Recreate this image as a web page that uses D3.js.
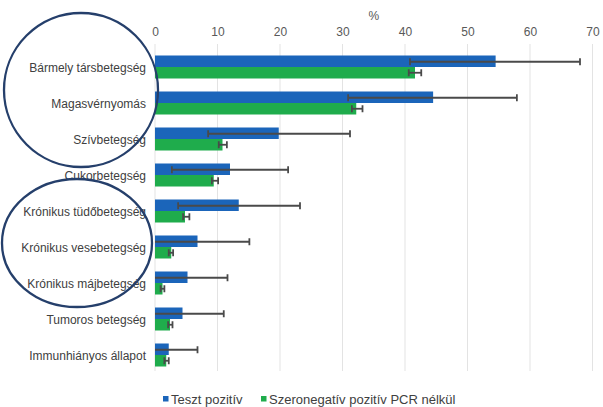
<!DOCTYPE html>
<html><head><meta charset="utf-8">
<script src="https://cdn.jsdelivr.net/npm/d3@7"></script>
<style>body{margin:0;background:#fff}svg{display:block}</style>
</head><body>
<svg id="c" width="603" height="407"></svg>
<script>
const categories = ["Bármely társbetegség","Magasvérnyomás","Szívbetegség","Cukorbetegség","Krónikus tüdőbetegség","Krónikus vesebetegség","Krónikus májbetegség","Tumoros betegség","Immunhiányos állapot"];
const seriesNames = ["Teszt pozitív","Szeronegatív pozitív PCR nélkül"];
const positive = [54.5,44.5,19.8,12.0,13.4,6.8,5.2,4.4,2.2];
const positiveLow = [40.8,30.9,8.5,2.7,3.7,0,0,0,0];
const positiveHigh = [68.0,57.9,31.2,21.3,23.2,15.1,11.6,11.0,6.8];
const seroneg = [41.6,32.2,10.8,9.4,4.8,2.6,1.2,2.4,1.8];
const serenegLow = [40.6,31.5,10.2,9.1,4.5,2.2,0.9,2.1,1.5];
const serenegHigh = [42.6,33.2,11.5,10.1,5.5,2.9,1.5,2.8,2.2];
const ticks = [0,10,20,30,40,50,60,70];

const svg = d3.select("#c");
const x = d3.scaleLinear().domain([0,70]).range([155,592.5]);
const y = d3.scaleBand().domain(categories).range([49,373]).paddingInner(0).paddingOuter(0);
const barH = 11.5;
const colors = ["#1b65ba","#1fac4c"];
const font = "Liberation Sans, Arial, sans-serif";

// gridlines
svg.append("g").selectAll("line").data(ticks).join("line")
  .attr("x1",d=>x(d)).attr("x2",d=>x(d)).attr("y1",44).attr("y2",371)
  .attr("stroke","#e3e3e3").attr("stroke-width",1);

// top axis labels
const ax = svg.append("g").attr("transform","translate(0,36)")
  .call(d3.axisTop(x).tickValues(ticks).tickSize(0).tickPadding(0));
ax.select(".domain").remove();
ax.selectAll("text").attr("font-family",font).attr("font-size",12).attr("fill","#595959");
svg.append("text").attr("x",x(35)).attr("y",20).attr("text-anchor","middle")
  .attr("font-family",font).attr("font-size",12).attr("fill","#595959").text("%");

// category labels
svg.append("g").selectAll("text").data(categories).join("text")
  .attr("x",146).attr("y",d=>y(d)+y.bandwidth()/2+4.5).attr("text-anchor","end")
  .attr("font-family",font).attr("font-size",12).attr("fill","#404040").text(d=>d);

const cy = d => y(d)+y.bandwidth()/2;
// bars
svg.append("g").selectAll("rect").data(categories).join("rect")
  .attr("x",x(0)).attr("y",d=>cy(d)-barH).attr("width",(d,i)=>x(positive[i])-x(0)).attr("height",barH)
  .attr("fill",colors[0]);
svg.append("g").selectAll("rect").data(categories).join("rect")
  .attr("x",x(0)).attr("y",d=>cy(d)).attr("width",(d,i)=>x(seroneg[i])-x(0)).attr("height",barH)
  .attr("fill",colors[1]);

// error bars
function errs(low, high, off){
  const g = svg.append("g").attr("stroke","#4a4a4a").attr("stroke-width",1.8);
  categories.forEach((c,i)=>{
    const yy = cy(c)+off;
    g.append("line").attr("x1",x(low[i])).attr("x2",x(high[i])).attr("y1",yy).attr("y2",yy);
    g.append("line").attr("x1",x(high[i])).attr("x2",x(high[i])).attr("y1",yy-3.5).attr("y2",yy+3.5);
    if(low[i]>0) g.append("line").attr("x1",x(low[i])).attr("x2",x(low[i])).attr("y1",yy-3.5).attr("y2",yy+3.5);
  });
}
errs(positiveLow,positiveHigh,-barH/2+0.5);
errs(serenegLow,serenegHigh,barH/2);

// legend
const leg = svg.append("g");
const lx = [163,261];
seriesNames.forEach((n,i)=>{
  leg.append("rect").attr("x",lx[i]).attr("y",396).attr("width",5.5).attr("height",5.5).attr("fill",colors[i]);
  leg.append("text").attr("x",lx[i]+8).attr("y",404).attr("font-family",font).attr("font-size",13)
    .attr("fill","#404040").text(n);
});

// ellipses
svg.append("ellipse").attr("cx",81).attr("cy",90).attr("rx",77).attr("ry",77)
  .attr("fill","none").attr("stroke","#253f6b").attr("stroke-width",2.3);
svg.append("ellipse").attr("cx",77).attr("cy",243).attr("rx",75).attr("ry",64)
  .attr("fill","none").attr("stroke","#253f6b").attr("stroke-width",2.3);
</script>
</body></html>
